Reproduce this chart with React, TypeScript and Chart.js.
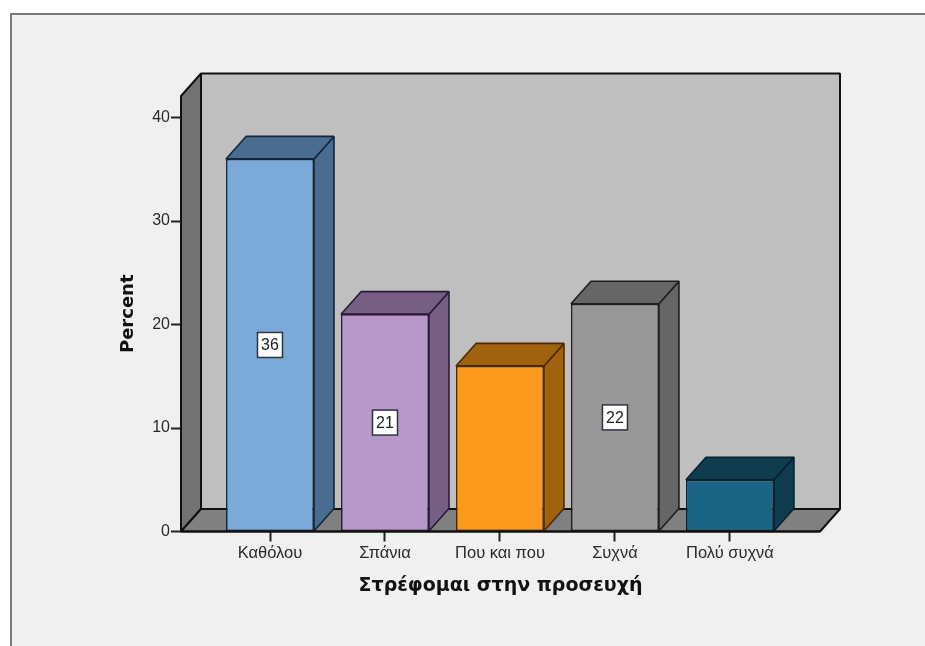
import React, { useEffect, useRef } from "react";
import { Chart, registerables } from "chart.js";

Chart.register(...registerables);

const categories = ["Καθόλου", "Σπάνια", "Που και που", "Συχνά", "Πολύ συχνά"];
const percents = [36, 21, 16, 22, 5];
const frontColors = ["#7BA9DA", "#B798C9", "#FC9A1E", "#989898", "#1B6483"];
const sideColors = ["#4A6C90", "#775F84", "#A0620F", "#666666", "#103C50"];
const edgeColors = ["#14263E", "#2A1A3A", "#4A2B05", "#1F1F1F", "#07212E"];
const yTicks = [0, 10, 20, 30, 40];

const DEPTH_X = 20;
const DEPTH_Y = 22.5;

function polygon(ctx: CanvasRenderingContext2D, pts: number[][], fill: string, stroke: string, lw = 2) {
  ctx.beginPath();
  pts.forEach(([x, y], i) => (i ? ctx.lineTo(x, y) : ctx.moveTo(x, y)));
  ctx.closePath();
  ctx.fillStyle = fill;
  ctx.fill();
  ctx.strokeStyle = stroke;
  ctx.lineWidth = lw;
  ctx.lineJoin = "bevel";
  ctx.stroke();
}

// Page frame behind the chart
const framePlugin = {
  id: "frame",
  beforeDraw(chart: any) {
    const { ctx, width, height } = chart;
    ctx.save();
    ctx.fillStyle = "#ffffff";
    ctx.fillRect(0, 0, width, height);
    ctx.fillStyle = "#7a7a7a";
    ctx.fillRect(10, 13, width - 10, height - 13);
    ctx.fillStyle = "#f0f0f0";
    ctx.fillRect(12, 15, width - 12, height - 15);
    ctx.restore();
  },
};

// Extruded walls, floor and the side/top faces of every bar
const boxPlugin = {
  id: "box",
  beforeDatasetsDraw(chart: any) {
    const { ctx, chartArea: a } = chart;
    const dx = DEPTH_X;
    const dy = DEPTH_Y;
    ctx.save();
    polygon(ctx, [[a.left + dx, a.top - dy], [a.right + dx, a.top - dy], [a.right + dx, a.bottom - dy], [a.left + dx, a.bottom - dy]], "#BFBFBF", "#111");
    polygon(ctx, [[a.left, a.top], [a.left + dx, a.top - dy], [a.left + dx, a.bottom - dy], [a.left, a.bottom]], "#727272", "#111");
    polygon(ctx, [[a.left, a.bottom], [a.left + dx, a.bottom - dy], [a.right + dx, a.bottom - dy], [a.right, a.bottom]], "#808080", "#111");
    chart.getDatasetMeta(0).data.forEach((bar: any, i: number) => {
      const l = bar.x - bar.width / 2;
      const r = bar.x + bar.width / 2;
      polygon(ctx, [[r, bar.y], [r + dx, bar.y - dy], [r + dx, bar.base - dy], [r, bar.base]], sideColors[i], edgeColors[i], 1.6);
      polygon(ctx, [[l, bar.y], [l + dx, bar.y - dy], [r + dx, bar.y - dy], [r, bar.y]], sideColors[i], edgeColors[i], 1.6);
    });
    ctx.restore();
  },
  afterDatasetsDraw(chart: any) {
    const { ctx, chartArea: a } = chart;
    ctx.save();
    // Front edge of the floor
    ctx.strokeStyle = "#111";
    ctx.lineWidth = 2;
    ctx.beginPath();
    ctx.moveTo(a.left, a.bottom);
    ctx.lineTo(a.right, a.bottom);
    ctx.stroke();
    // Value boxes in the middle of the bars
    chart.getDatasetMeta(0).data.forEach((bar: any, i: number) => {
      if (i === 2 || i === 4) return;
      const cx = bar.x;
      const cy = (bar.y + bar.base) / 2;
      ctx.fillStyle = "#ffffff";
      ctx.fillRect(cx - 12.5, cy - 12.5, 25, 25);
      ctx.strokeStyle = "#2e3440";
      ctx.lineWidth = 1.5;
      ctx.strokeRect(cx - 12.5, cy - 12.5, 25, 25);
      ctx.fillStyle = "#222";
      ctx.font = "16px 'Liberation Sans'";
      ctx.textAlign = "center";
      ctx.textBaseline = "middle";
      ctx.fillText(String(percents[i]), cx, cy + 1);
    });
    ctx.restore();
  },
};

export default function App() {
  const ref = useRef<HTMLCanvasElement>(null);
  useEffect(() => {
    document.body.style.margin = "0";
    const chart = new Chart(ref.current!, {
      type: "bar",
      data: {
        datasets: [
          {
            data: percents.map((y, x) => ({ x, y })),
            backgroundColor: frontColors,
            borderColor: edgeColors,
            borderWidth: 1.6,
            borderSkipped: false,
            barPercentage: 0.765,
            categoryPercentage: 1,
          },
        ],
      },
      options: {
        animation: false,
        responsive: false,
        layout: { padding: { left: 0, right: 105, top: 96, bottom: 0 } },
        plugins: { legend: { display: false }, tooltip: { enabled: false } },
        scales: {
          x: {
            type: "linear",
            offset: false,
            min: -0.774,
            max: 4.783,
            afterBuildTicks(scale: any) {
              scale.ticks = categories.map((_, value) => ({ value }));
            },
            afterFit(scale: any) {
              scale.height = 114.5;
            },
            grid: { offset: false, drawOnChartArea: false, tickLength: 10, tickColor: "#222", tickWidth: 2 },
            border: { display: false },
            ticks: {
              autoSkip: false,
              maxRotation: 0,
              padding: 2,
              color: "#2a2a2a",
              font: { family: "'Liberation Sans'", size: 16.5 },
              callback: (v: any) => categories[v as number],
            },
            title: {
              display: true,
              text: "Στρέφομαι στην προσευχή",
              color: "#111",
              font: { family: "'DejaVu Sans'", size: 19, weight: "bold" },
              padding: { top: 0, bottom: 49 },
            },
          },
          y: {
            min: 0,
            max: 42.08,
            afterBuildTicks(scale: any) {
              scale.ticks = yTicks.map((value) => ({ value }));
            },
            afterFit(scale: any) {
              scale.width = 181;
            },
            grid: { drawOnChartArea: false, tickLength: 10, tickColor: "#222", tickWidth: 2 },
            border: { display: false },
            ticks: {
              padding: 1,
              color: "#2a2a2a",
              font: { family: "'Liberation Sans'", size: 16 },
            },
            title: {
              display: true,
              text: "Percent",
              color: "#111",
              font: { family: "'DejaVu Sans'", size: 18, weight: "bold" },
              padding: { top: 118, bottom: 0 },
            },
          },
        },
      },
      plugins: [framePlugin, boxPlugin],
    } as any);
    return () => chart.destroy();
  }, []);
  return <canvas ref={ref} width={925} height={646} style={{ display: "block" }} />;
}
